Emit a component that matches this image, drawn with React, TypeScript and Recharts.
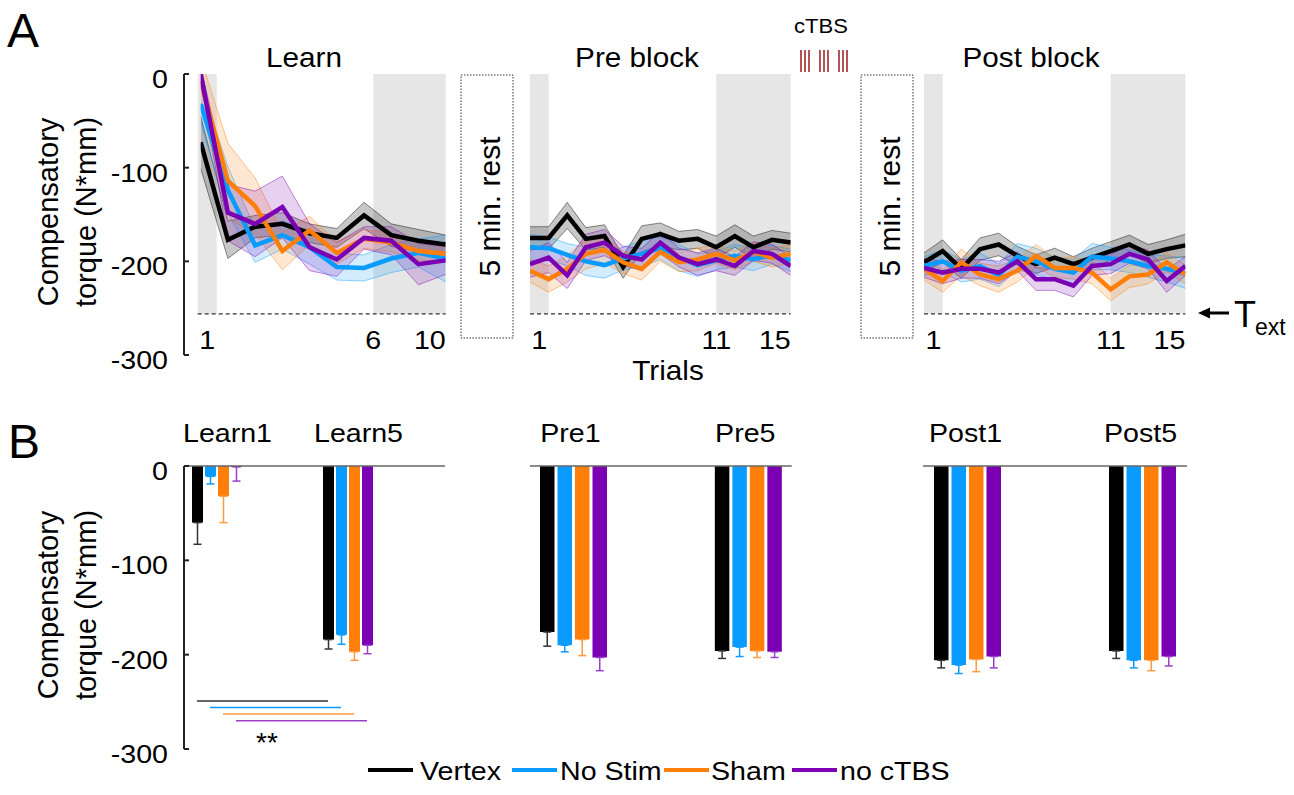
import React from 'react';
import {
  ComposedChart,
  Bar,
  Line,
  Area,
  XAxis,
  YAxis,
  ReferenceArea,
  ReferenceLine,
  ErrorBar,
} from 'recharts';

const FONT = '"Liberation Sans", Arial, Helvetica, sans-serif';
const SX = 1.1;

// ---------- series ----------
const seriesKeys = ['vtx', 'nos', 'sham', 'noc'];
const seriesNames = ['Vertex', 'No Stim', 'Sham', 'no cTBS'];
const seriesColors = ['#000000', '#0A9BFF', '#FF7F0A', '#7B00B4'];
const errColors = ['#333333', '#0A9BFF', '#FF9A40', '#9A3FCC'];

// ---------- Panel A : trial-by-trial ----------
const T_EXT = -256;
const yTicks = [0, -100, -200, -300];

const learnTrials = [1, 2, 3, 4, 5, 6, 7, 8, 9, 10];
const learnVertex = [-73, -177, -163, -160, -170, -175, -151, -172, -178, -182];
const learnNoStim = [-32, -124, -183, -172, -185, -206, -207, -197, -191, -197];
const learnSham = [-8, -114, -141, -189, -167, -191, -176, -180, -189, -192];
const learnNoCTBS = [0, -148, -160, -142, -185, -198, -175, -178, -203, -199];
const learnVertexSE = [28, 20, 12, 12, 10, 10, 14, 12, 12, 10];
const learnNoStimSE = [20, 25, 18, 15, 18, 14, 14, 15, 15, 25];
const learnShamSE = [25, 40, 30, 20, 15, 12, 10, 10, 10, 8];
const learnNoCTBSSE = [8, 30, 35, 33, 25, 18, 12, 15, 22, 15];

const blockTrials = [1, 2, 3, 4, 5, 6, 7, 8, 9, 10, 11, 12, 13, 14, 15];
const preVertex = [-175, -175, -151, -176, -173, -206, -176, -171, -178, -176, -185, -173, -185, -177, -180];
const preNoStim = [-185, -186, -193, -200, -204, -197, -192, -186, -196, -204, -199, -194, -198, -193, -199];
const preSham = [-210, -219, -208, -192, -188, -201, -208, -190, -201, -198, -192, -199, -190, -196, -192];
const preNoCTBS = [-203, -196, -215, -185, -180, -194, -198, -180, -196, -203, -198, -205, -189, -192, -205];
const preVertexSE = [12, 12, 14, 12, 12, 12, 14, 12, 10, 10, 12, 12, 12, 10, 10];
const preNoStimSE = [14, 12, 12, 15, 14, 12, 14, 12, 14, 12, 10, 12, 12, 10, 12];
const preShamSE = [12, 14, 14, 16, 14, 12, 12, 10, 10, 12, 10, 10, 10, 10, 10];
const preNoCTBSSE = [14, 16, 14, 14, 14, 10, 12, 12, 10, 12, 12, 10, 10, 10, 10];

const postVertex = [-201, -189, -208, -187, -182, -194, -203, -196, -203, -196, -189, -182, -192, -187, -183];
const postNoStim = [-205, -200, -210, -205, -215, -195, -200, -208, -212, -195, -197, -200, -205, -208, -213];
const postSham = [-208, -221, -201, -214, -219, -210, -194, -207, -207, -212, -230, -216, -214, -201, -214];
const postNoCTBS = [-207, -212, -208, -208, -212, -200, -219, -219, -226, -205, -203, -192, -198, -221, -205];
const postVertexSE = [10, 12, 10, 12, 12, 10, 10, 10, 8, 10, 10, 10, 10, 10, 12];
const postNoStimSE = [10, 12, 12, 14, 12, 14, 14, 12, 14, 14, 12, 12, 12, 14, 16];
const postShamSE = [12, 12, 14, 12, 14, 12, 12, 10, 12, 12, 12, 12, 10, 10, 10];
const postNoCTBSSE = [10, 12, 10, 10, 12, 10, 12, 12, 12, 10, 10, 10, 10, 12, 10];

// shaded trial ranges and tick labels of each block
const learnShades = [[0.89, 1.59], [7.34, 10]];
const blockShades = [[1, 2], [11, 15]];
const learnTickLabels = ['1', '6', '10'];
const blockTickLabels = ['1', '11', '15'];

// ---------- Panel B : bar summary ----------
const barCategories = ['Learn1', 'Learn5', 'Pre1', 'Pre5', 'Post1', 'Post5'];
const barVertex = [-60, -184, -176, -196, -206, -196];
const barNoStim = [-11, -179, -190, -192, -211, -206];
const barSham = [-32, -197, -184, -196, -205, -206];
const barNoCTBS = [-1, -190, -203, -197, -202, -202];
const barVertexErr = [23, 10, 15, 8, 8, 8];
const barNoStimErr = [8, 10, 7, 10, 9, 8];
const barShamErr = [28, 9, 17, 7, 13, 11];
const barNoCTBSErr = [15, 9, 14, 6, 12, 10];
const sigLevels = [-249, -256, -263, -270];

// ---------- builders ----------
function buildTrialRows(trials: number[], means: number[][], ses: number[][]) {
  return trials.map((t, i) => {
    const row: any = { t };
    seriesKeys.forEach((k, s) => {
      row[k] = means[s][i];
      row[k + 'Band'] = [means[s][i] - ses[s][i], means[s][i] + ses[s][i]];
    });
    return row;
  });
}

function buildBarRows(idx: number[]) {
  const means = [barVertex, barNoStim, barSham, barNoCTBS];
  const errs = [barVertexErr, barNoStimErr, barShamErr, barNoCTBSErr];
  return idx.map((i) => {
    const row: any = { name: barCategories[i] };
    seriesKeys.forEach((k, s) => {
      row[k] = means[s][i];
      row[k + 'Err'] = [errs[s][i], 0];
    });
    return row;
  });
}

const learnRows = buildTrialRows(
  learnTrials,
  [learnVertex, learnNoStim, learnSham, learnNoCTBS],
  [learnVertexSE, learnNoStimSE, learnShamSE, learnNoCTBSSE]
);
const preRows = buildTrialRows(
  blockTrials,
  [preVertex, preNoStim, preSham, preNoCTBS],
  [preVertexSE, preNoStimSE, preShamSE, preNoCTBSSE]
);
const postRows = buildTrialRows(
  blockTrials,
  [postVertex, postNoStim, postSham, postNoCTBS],
  [postVertexSE, postNoStimSE, postShamSE, postNoCTBSSE]
);

// ---------- text helper ----------
function ST(props: any) {
  const { x, y, size = 26, anchor = 'start', sx = SX, fill = '#000', children } = props;
  return (
    <text
      transform={`translate(${x},${y}) scale(${sx},1)`}
      textAnchor={anchor}
      fontSize={size}
      fill={fill}
      fontFamily={FONT}
    >
      {children}
    </text>
  );
}

const renderYTick = (p: any) => (
  <g>
    <line x1={p.x} x2={p.x + 5} y1={p.y} y2={p.y} stroke="#222" strokeWidth={2} />
    <ST x={p.x - 16} y={p.y + 14} anchor="end">
      {String(p.payload.value)}
    </ST>
  </g>
);

const makeXTick = (labels: string[]) => (p: any) => (
  <ST x={p.x} y={p.y - 6} anchor={p.index === labels.length - 1 ? 'end' : 'middle'}>
    {labels[p.index]}
  </ST>
);

const makeCatTick = (dx: number) => (p: any) => (
  <ST x={p.x + dx} y={p.y - 24} anchor="middle">
    {p.payload.value}
  </ST>
);

// ---------- Panel A block ----------
const A_TOP = 53.5;
const A_H = 20 + 281 + 20;

function BlockA(props: any) {
  const { left, plotWidth, yWidth, rows, domain, padLeft, shades, labels, showY } = props;
  const ticks = [(shades[0][0] + shades[0][1]) / 2, shades[1][0], shades[1][1]];
  return (
    <div style={{ position: 'absolute', left, top: A_TOP }}>
      <ComposedChart
        width={plotWidth + (showY ? yWidth : 0)}
        height={A_H}
        data={rows}
        margin={{ top: 20, right: 0, bottom: 0, left: 0 }}
      >
        <XAxis
          type="number"
          dataKey="t"
          domain={domain}
          padding={{ left: padLeft, right: 0 }}
          ticks={ticks}
          interval={0}
          tick={makeXTick(labels)}
          tickLine={false}
          tickSize={0}
          tickMargin={0}
          axisLine={false}
          height={20}
          allowDataOverflow
        />
        <YAxis
          type="number"
          domain={[-300, 0]}
          ticks={yTicks}
          interval={0}
          hide={!showY}
          width={yWidth}
          tick={renderYTick}
          tickLine={false}
          tickSize={0}
          tickMargin={0}
          axisLine={{ stroke: '#222', strokeWidth: 2 }}
          allowDataOverflow
        />
        {shades.map((s: number[], i: number) => (
          <ReferenceArea
            key={'sh' + i}
            x1={s[0]}
            x2={s[1]}
            y1={T_EXT}
            y2={0}
            fill="#e6e6e6"
            fillOpacity={1}
            stroke="none"
            ifOverflow="visible"
          />
        ))}
        <ReferenceLine
          segment={[
            { x: shades[0][0], y: T_EXT },
            { x: shades[1][1], y: T_EXT },
          ]}
          stroke="#333"
          strokeWidth={1.3}
          strokeDasharray="4 3"
          ifOverflow="visible"
        />
        {seriesKeys.map((k, s) => (
          <Area
            key={'band' + k}
            type="linear"
            dataKey={k + 'Band'}
            stroke={seriesColors[s]}
            strokeOpacity={0.45}
            strokeWidth={1}
            fill={seriesColors[s]}
            fillOpacity={s === 0 ? 0.22 : 0.18}
            dot={false}
            activeDot={false}
            isAnimationActive={false}
          />
        ))}
        {seriesKeys.map((k, s) => (
          <Line
            key={'line' + k}
            type="linear"
            dataKey={k}
            stroke={seriesColors[s]}
            strokeWidth={4.5}
            dot={false}
            activeDot={false}
            isAnimationActive={false}
          />
        ))}
      </ComposedChart>
    </div>
  );
}

// ---------- Panel B block ----------
const B_AXIS_H = 60;
const B_TOP = 466 - B_AXIS_H;
const B_H = B_AXIS_H + 283 + 28;

function BlockB(props: any) {
  const { left, plotWidth, yWidth, idx, showY, padding, barSize, barGap, labelDx, withSig } = props;
  const rows = buildBarRows(idx);
  const step = barSize + barGap;
  return (
    <div style={{ position: 'absolute', left, top: B_TOP }}>
      <ComposedChart
        width={plotWidth + (showY ? yWidth : 0)}
        height={B_H}
        data={rows}
        margin={{ top: 0, right: 0, bottom: 28, left: 0 }}
        barGap={barGap}
      >
        <XAxis
          type="category"
          dataKey="name"
          orientation="top"
          padding={padding}
          interval={0}
          tick={makeCatTick(labelDx)}
          tickLine={false}
          tickSize={0}
          tickMargin={0}
          axisLine={false}
          height={B_AXIS_H}
        />
        <YAxis
          type="number"
          domain={[-300, 0]}
          ticks={yTicks}
          interval={0}
          hide={!showY}
          width={yWidth}
          tick={renderYTick}
          tickLine={false}
          tickSize={0}
          tickMargin={0}
          axisLine={{ stroke: '#222', strokeWidth: 2 }}
          allowDataOverflow
        />
        {seriesKeys.map((k, s) => (
          <Bar key={'bar' + k} dataKey={k} fill={seriesColors[s]} barSize={barSize} isAnimationActive={false}>
            <ErrorBar dataKey={k + 'Err'} direction="y" width={4} strokeWidth={1.5} stroke={errColors[s]} />
          </Bar>
        ))}
        <ReferenceLine y={0} stroke="#666" strokeWidth={1.5} />
        {withSig &&
          seriesKeys.map((k, s) => {
            const dx = (s - 1.5) * step;
            return (
              <ReferenceLine
                key={'sig' + k}
                segment={[
                  { x: rows[0].name, y: sigLevels[s] },
                  { x: rows[1].name, y: sigLevels[s] },
                ]}
                ifOverflow="visible"
                shape={(p: any) => (
                  <line
                    x1={p.x1 + dx}
                    x2={p.x2 + dx}
                    y1={p.y1}
                    y2={p.y2}
                    stroke={errColors[s]}
                    strokeWidth={1.5}
                  />
                )}
              />
            );
          })}
      </ComposedChart>
    </div>
  );
}

// ---------- overlay annotations ----------
const ctbsPulses = [801, 805, 809, 820, 824, 828, 839, 843, 847];
const legendLineX = [368, 512, 664, 792];
const legendTextX = [420, 560, 711, 840];

function Overlay() {
  return (
    <svg
      width={1294}
      height={795}
      style={{ position: 'absolute', left: 0, top: 0, pointerEvents: 'none' }}
    >
      <ST x={7} y={47} size={48} sx={1}>A</ST>
      <ST x={8} y={458} size={48} sx={1}>B</ST>

      <ST x={304} y={67} size={27} anchor="middle">Learn</ST>
      <ST x={637} y={67} size={27} anchor="middle">Pre block</ST>
      <ST x={1031} y={67} size={27} anchor="middle">Post block</ST>

      <ST x={821} y={33} size={20} anchor="middle">cTBS</ST>
      {ctbsPulses.map((x, i) => (
        <line key={i} x1={x} x2={x} y1={50} y2={72} stroke="#9E2A2B" strokeWidth={1.6} />
      ))}

      {[461, 861].map((x, i) => (
        <g key={i}>
          <rect x={x} y={75} width={52} height={263} fill="none" stroke="#333" strokeWidth={1} strokeDasharray="1.5 1.5" />
          <text
            transform={`translate(${x + 39},206.5) rotate(-90)`}
            textAnchor="middle"
            fontSize={30}
            fontFamily={FONT}
          >
            5 min. rest
          </text>
        </g>
      ))}

      <ST x={668} y={380} size={27} anchor="middle">Trials</ST>

      <line x1={1206} x2={1229} y1={313} y2={313} stroke="#000" strokeWidth={3} />
      <polygon points="1198,313 1210,307.5 1210,318.5" fill="#000" />
      <text x={1234} y={327} fontSize={36} fontFamily={FONT}>T</text>
      <text x={1255} y={335} fontSize={23} fontFamily={FONT}>ext</text>

      {[212, 605].map((cy, i) => (
        <g key={i}>
          <text transform={`translate(58,${cy}) rotate(-90)`} textAnchor="middle" fontSize={29} fontFamily={FONT}>
            Compensatory
          </text>
          <text transform={`translate(96,${cy}) rotate(-90)`} textAnchor="middle" fontSize={29} fontFamily={FONT}>
            torque (N*mm)
          </text>
        </g>
      ))}

      <ST x={267} y={752} size={28} anchor="middle" sx={1}>**</ST>

      {seriesNames.map((n, i) => (
        <g key={n}>
          <line x1={legendLineX[i]} x2={legendLineX[i] + 45} y1={770} y2={770} stroke={seriesColors[i]} strokeWidth={4} />
          <ST x={legendTextX[i]} y={780} size={26}>{n}</ST>
        </g>
      ))}
    </svg>
  );
}

export default function App() {
  return (
    <div
      style={{
        position: 'absolute',
        left: 0,
        top: 0,
        width: 1294,
        height: 795,
        background: '#fff',
        fontFamily: FONT,
        overflow: 'hidden',
      }}
    >
      <BlockA left={104} plotWidth={261.7} yWidth={80} rows={learnRows} domain={[1, 10]} padLeft={16.7} shades={learnShades} labels={learnTickLabels} showY />
      <BlockA left={530} plotWidth={260.7} yWidth={0} rows={preRows} domain={[1, 15]} padLeft={0} shades={blockShades} labels={blockTickLabels} showY={false} />
      <BlockA left={924.3} plotWidth={261.4} yWidth={0} rows={postRows} domain={[1, 15]} padLeft={0} shades={blockShades} labels={blockTickLabels} showY={false} />

      <BlockB left={104} plotWidth={261} yWidth={80} idx={[0, 1]} showY padding={{ left: -33, right: 32 }} barSize={11} barGap={2} labelDx={11} withSig />
      <BlockB left={530} plotWidth={261.7} yWidth={0} idx={[2, 3]} showY={false} padding={{ left: -44, right: -44 }} barSize={14.5} barGap={3} labelDx={-3} withSig={false} />
      <BlockB left={923} plotWidth={264} yWidth={0} idx={[4, 5]} showY={false} padding={{ left: -43, right: -43 }} barSize={14.5} barGap={3} labelDx={-2} withSig={false} />

      <Overlay />
    </div>
  );
}
